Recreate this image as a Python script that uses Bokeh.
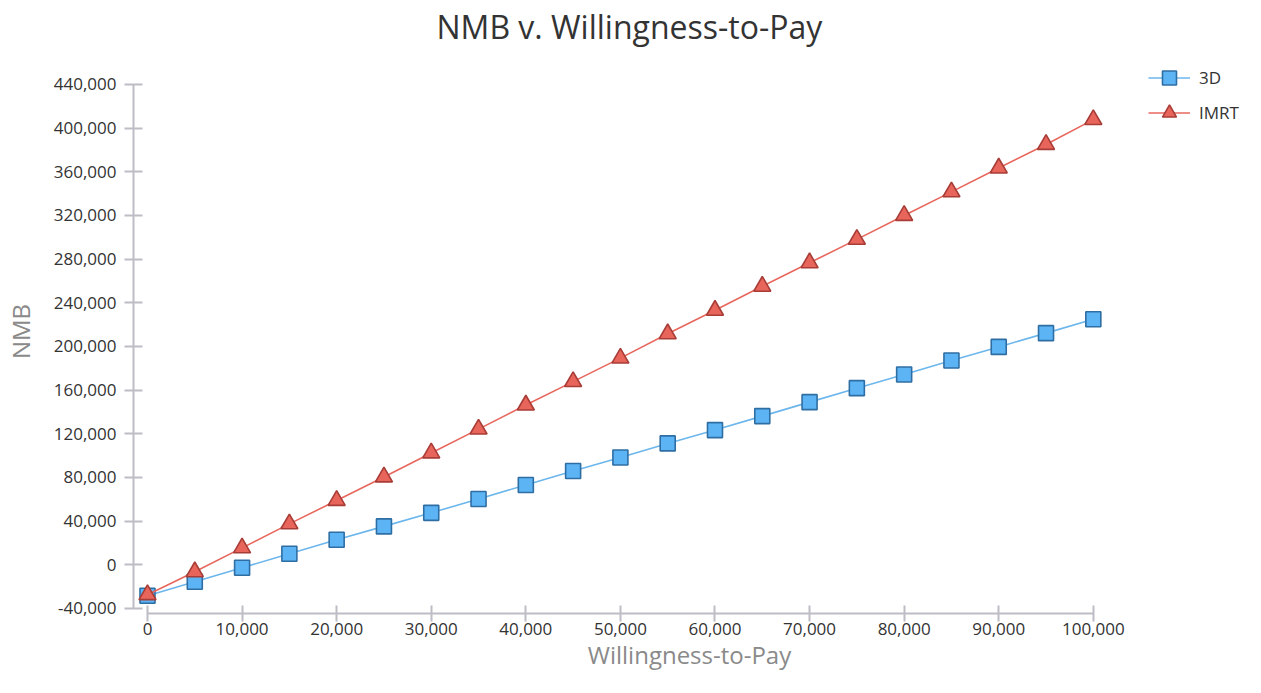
from bokeh.plotting import figure
from bokeh.models import FixedTicker, NumeralTickFormatter, Range1d, Legend, LegendItem
from bokeh.embed import file_html
from bokeh.resources import INLINE

# Data
wtp = [0, 5000, 10000, 15000, 20000, 25000, 30000, 35000, 40000, 45000, 50000,
       55000, 60000, 65000, 70000, 75000, 80000, 85000, 90000, 95000, 100000]
nmb_3d = [-28300, -15500, -2700, 10100, 22900, 35200, 47600, 60300, 73100, 85900, 98300,
          111200, 123400, 136200, 149000, 161800, 174300, 187100, 199600, 212200, 224900]
nmb_imrt = [-27400, -6400, 15500, 37500, 58900, 80500, 102400, 124300, 146300, 167800, 189300,
            211600, 233100, 255100, 276600, 298100, 320000, 341600, 363400, 385000, 407800]
y_ticks = list(range(-40000, 440001, 40000))
x_ticks = list(range(0, 100001, 10000))

FONT = "Open Sans"
AXIS_COLOR = "#bdbdc6"

p = figure(width=1245, height=677, output_backend="svg", toolbar_location=None,
           x_range=Range1d(-1480, 116090), y_range=Range1d(-44600, 472000),
           min_border_left=129, min_border_right=0, min_border_top=49, min_border_bottom=64)

p.title.text = "NMB v. Willingness-to-Pay"
p.title.align = "left"
p.title.offset = 303
p.title.text_font = FONT
p.title.text_font_size = "32px"
p.title.text_font_style = "normal"
p.title.text_color = "#333333"
p.title.standoff = 4

p.xgrid.visible = False
p.ygrid.visible = False
p.outline_line_color = None

for ax in (p.xaxis[0], p.yaxis[0]):
    ax.axis_line_color = AXIS_COLOR
    ax.axis_line_width = 2
    ax.major_tick_line_color = AXIS_COLOR
    ax.major_tick_line_width = 2
    ax.minor_tick_line_color = None
    ax.major_label_text_font = FONT
    ax.major_label_text_font_size = "17px"
    ax.major_label_text_color = "#333333"
    ax.axis_label_text_font = FONT
    ax.axis_label_text_font_size = "24px"
    ax.axis_label_text_font_style = "normal"
    ax.axis_label_text_color = "#8a8a8a"
    ax.formatter = NumeralTickFormatter(format="0,0")

p.yaxis[0].ticker = FixedTicker(ticks=y_ticks)
p.yaxis[0].bounds = (y_ticks[0], y_ticks[-1])
p.yaxis[0].major_tick_in = 9
p.yaxis[0].major_tick_out = 9
p.yaxis[0].major_label_standoff = 8
p.yaxis[0].axis_label = "NMB"
p.yaxis[0].axis_label_standoff = 14

p.xaxis[0].ticker = FixedTicker(ticks=x_ticks)
p.xaxis[0].bounds = (x_ticks[0], x_ticks[-1])
p.xaxis[0].major_tick_in = 8
p.xaxis[0].major_tick_out = 8
p.xaxis[0].major_label_standoff = 1
p.xaxis[0].axis_label = "Willingness-to-Pay"
p.xaxis[0].axis_label_standoff = 0

l3 = p.line(wtp, nmb_3d, line_color="#6cb6ec", line_width=1.6)
m3 = p.scatter(wtp, nmb_3d, marker="square", size=15, fill_color="#5cb4f5",
               line_color="#2f6ea3", line_width=1.6)
li = p.line(wtp, nmb_imrt, line_color="#e8675d", line_width=1.6)
mi = p.scatter(wtp, nmb_imrt, marker="triangle", size=17, fill_color="#e8655b",
               line_color="#a83d37", line_width=1.6)

legend = Legend(items=[LegendItem(label="3D", renderers=[l3, m3]),
                       LegendItem(label="IMRT", renderers=[li, mi])],
                location=(1015, 483), orientation="vertical",
                glyph_width=42, glyph_height=35, label_height=35, spacing=0,
                padding=0, margin=0, label_standoff=9,
                label_text_font=FONT, label_text_font_size="17px", label_text_color="#333333",
                border_line_color=None, background_fill_alpha=0)
p.add_layout(legend, "center")

open("out.html", "w").write(file_html(p, INLINE))
